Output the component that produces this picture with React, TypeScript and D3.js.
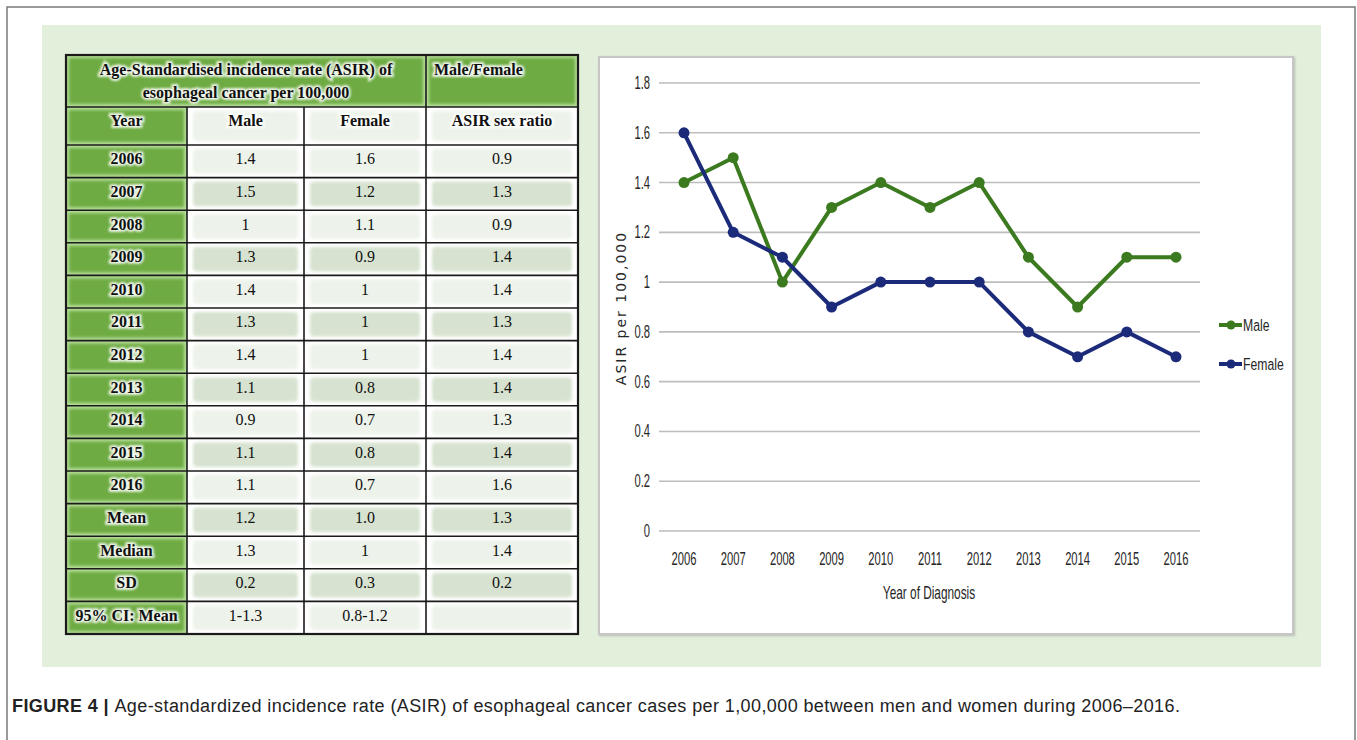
import React from 'react';
import { scaleLinear, scalePoint, scaleBand, line, range } from 'd3';

// table + chart values
const years = [2006, 2007, 2008, 2009, 2010, 2011, 2012, 2013, 2014, 2015, 2016];
const maleAsir = [1.4, 1.5, 1, 1.3, 1.4, 1.3, 1.4, 1.1, 0.9, 1.1, 1.1];
const femaleAsir = [1.6, 1.2, 1.1, 0.9, 1, 1, 1, 0.8, 0.7, 0.8, 0.7];
const sexRatio = ['0.9', '1.3', '0.9', '1.4', '1.4', '1.3', '1.4', '1.4', '1.3', '1.4', '1.6'];

const summaryLabels = ['Mean', 'Median', 'SD', '95% CI: Mean'];
const summaryMale = ['1.2', '1.3', '0.2', '1-1.3'];
const summaryFemale = ['1.0', '1', '0.3', '0.8-1.2'];
const summaryRatio = ['1.3', '1.4', '0.2', ''];

const headerTitle = ['Age-Standardised incidence rate (ASIR) of', 'esophageal cancer per 100,000'];
const columnHeads = ['Year', 'Male', 'Female', 'ASIR sex ratio'];
const yTicks = [0, 0.2, 0.4, 0.6, 0.8, 1, 1.2, 1.4, 1.6, 1.8];

const GREEN_LINE = '#3b7a1f';
const BLUE_LINE = '#1c2a7a';
const SERIF = '"Liberation Serif", "Times New Roman", serif';
const SANS = '"Liberation Sans", Arial, sans-serif';

// condensed label (no narrow font installed, so squeeze horizontally)
const Narrow: React.FC<{ x: number; y: number; size?: number; sx?: number; anchor?: 'start' | 'middle' | 'end'; children: React.ReactNode }> =
  ({ x, y, size = 17.5, sx = 0.64, anchor = 'middle', children }) => (
    <text transform={`translate(${x},${y}) scale(${sx},1)`} textAnchor={anchor}
      fontFamily={SANS} fontSize={size} fill="#262626">{children}</text>
  );

const App: React.FC = () => {
  // table geometry
  const colEdges = [66, 187, 304, 426, 578];
  const tableTop = 55;
  const head1Bottom = 107;
  const head2Bottom = 145;
  const tableBottom = 634;

  const rows = [
    ...years.map((y, i) => ({ label: String(y), vals: [String(maleAsir[i]), String(femaleAsir[i]), sexRatio[i]] })),
    ...summaryLabels.map((s, i) => ({ label: s, vals: [summaryMale[i], summaryFemale[i], summaryRatio[i]] })),
  ];
  const rowScale = scaleBand<number>().domain(range(rows.length)).range([head2Bottom, tableBottom]);
  const rh = rowScale.bandwidth();

  // chart scales
  const x = scalePoint<number>().domain(years).range([684, 1176]);
  const y = scaleLinear().domain([0, 1.8]).range([531, 83]);
  const seriesLine = line<number>().x((_, i) => x(years[i])!).y(d => y(d));

  const greenCell = (x0: number, y0: number, w: number, h: number, key: string) => (
    <g key={key}>
      <rect x={x0} y={y0} width={w} height={h} fill="#b5dd98" />
      <rect x={x0 + 3} y={y0 + 3} width={w - 6} height={h - 6} fill="#6eab43" filter="url(#soft)" />
    </g>
  );

  const glowText = (tx: number, ty: number, txt: string, anchor: 'middle' | 'start', key: string, size = 16) => (
    <g key={key} fontFamily={SERIF} fontWeight="bold" fontSize={size} textAnchor={anchor}>
      <text x={tx} y={ty} fill="none" stroke="#ffffff" strokeOpacity={0.85} strokeWidth={4} filter="url(#glow)">{txt}</text>
      <text x={tx} y={ty} fill="#111">{txt}</text>
    </g>
  );

  const dataCell = (ci: number, y0: number, h: number, dark: boolean, key: string) => {
    const x0 = colEdges[ci];
    const w = colEdges[ci + 1] - x0;
    return (
      <g key={key}>
        <rect x={x0} y={y0} width={w} height={h} fill="#ffffff" />
        <rect x={x0 + 6} y={y0 + 4} width={w - 12} height={h - 8} rx={4}
          fill={dark ? '#d7e3d0' : '#edf3ea'} filter="url(#soft)" />
      </g>
    );
  };

  return (
    <svg width={1357} height={740} style={{ position: 'absolute', left: 0, top: 0, background: '#fff' }}>
      <defs>
        <filter id="soft" x="-10%" y="-10%" width="120%" height="120%">
          <feGaussianBlur stdDeviation={1.5} />
        </filter>
        <filter id="glow" x="-10%" y="-30%" width="120%" height="160%">
          <feGaussianBlur stdDeviation={1.2} />
        </filter>
        <filter id="shadow" x="-5%" y="-5%" width="110%" height="110%">
          <feDropShadow dx={1} dy={1} stdDeviation={1} floodColor="#999" floodOpacity={0.6} />
        </filter>
      </defs>

      {/* outer frame */}
      <path d="M7,740 V7 H1355 V740" fill="none" stroke="#7a7a7a" strokeWidth={1.5} />
      {/* green panel */}
      <rect x={42} y={25} width={1279} height={642} fill="#e2efda" />

      {/* ===== table ===== */}
      <g>
        {greenCell(colEdges[0], tableTop, colEdges[3] - colEdges[0], head1Bottom - tableTop, 'h1a')}
        {greenCell(colEdges[3], tableTop, colEdges[4] - colEdges[3], head1Bottom - tableTop, 'h1b')}
        {greenCell(colEdges[0], head1Bottom, colEdges[1] - colEdges[0], head2Bottom - head1Bottom, 'h2a')}
        {[1, 2, 3].map(ci => dataCell(ci, head1Bottom, head2Bottom - head1Bottom, false, `h2-${ci}`))}
        {rows.map((r, ri) => (
          <g key={`row-${ri}`}>
            {greenCell(colEdges[0], rowScale(ri)!, colEdges[1] - colEdges[0], rh, `g-${ri}`)}
            {[1, 2, 3].map(ci => dataCell(ci, rowScale(ri)!, rh, ri % 2 === 1, `d-${ri}-${ci}`))}
          </g>
        ))}

        {/* grid lines */}
        {rows.map((_, ri) => (
          <line key={`hl-${ri}`} x1={colEdges[0]} x2={colEdges[4]} y1={rowScale(ri)!} y2={rowScale(ri)!} stroke="#1a1a1a" strokeWidth={1.6} />
        ))}
        <line x1={colEdges[0]} x2={colEdges[4]} y1={head1Bottom} y2={head1Bottom} stroke="#1a1a1a" strokeWidth={1.6} />
        {colEdges.slice(1, 4).map((cx, i) => (
          <line key={`vl-${i}`} x1={cx} x2={cx} y1={i === 2 ? tableTop : head1Bottom} y2={tableBottom} stroke="#1a1a1a" strokeWidth={1.6} />
        ))}
        <rect x={colEdges[0]} y={tableTop} width={colEdges[4] - colEdges[0]} height={tableBottom - tableTop}
          fill="none" stroke="#1a1a1a" strokeWidth={2.2} />

        {/* header text */}
        {glowText((colEdges[0] + colEdges[3]) / 2, 75, headerTitle[0], 'middle', 'ht0')}
        {glowText((colEdges[0] + colEdges[3]) / 2, 98, headerTitle[1], 'middle', 'ht1')}
        {glowText(colEdges[3] + 8, 75, 'Male/Female', 'start', 'ht2')}
        {columnHeads.map((h, ci) => glowText((colEdges[ci] + colEdges[ci + 1]) / 2, 126, h, 'middle', `ch-${ci}`))}

        {/* body text */}
        {rows.map((r, ri) => {
          const ty = rowScale(ri)! + rh / 2 + 3;
          return (
            <g key={`rt-${ri}`}>
              {glowText((colEdges[0] + colEdges[1]) / 2, ty, r.label, 'middle', `lab-${ri}`)}
              {r.vals.map((v, vi) => (
                <text key={`v-${vi}`} x={(colEdges[vi + 1] + colEdges[vi + 2]) / 2} y={ty}
                  textAnchor="middle" fontFamily={SERIF} fontSize={16} fill="#111">{v}</text>
              ))}
            </g>
          );
        })}
      </g>

      {/* ===== chart ===== */}
      <rect x={599} y={57} width={694} height={577} fill="#ffffff" stroke="#c6c6c6" strokeWidth={2} filter="url(#shadow)" />

      {yTicks.map(t => (
        <g key={`yt-${t}`}>
          <line x1={659} x2={1200} y1={y(t)} y2={y(t)} stroke="#bdbdbd" strokeWidth={1.6} />
          <Narrow x={650} y={y(t) + 6} anchor="end">{String(t)}</Narrow>
        </g>
      ))}
      {years.map(yr => (
        <Narrow key={`xt-${yr}`} x={x(yr)!} y={565}>{yr}</Narrow>
      ))}
      <Narrow x={929} y={599} size={18.5}>Year of Diagnosis</Narrow>
      <text transform={`translate(626,308) rotate(-90)`} textAnchor="middle" fontFamily='"DejaVu Sans", Verdana, sans-serif'
        fontSize={14} fill="#262626" letterSpacing={2}>ASIR per 100,000</text>

      <path d={seriesLine(maleAsir) ?? ''} fill="none" stroke={GREEN_LINE} strokeWidth={4} strokeLinejoin="round" />
      <path d={seriesLine(femaleAsir) ?? ''} fill="none" stroke={BLUE_LINE} strokeWidth={4} strokeLinejoin="round" />
      {maleAsir.map((v, i) => (
        <circle key={`mm-${i}`} cx={x(years[i])} cy={y(v)} r={5.5} fill={GREEN_LINE} />
      ))}
      {femaleAsir.map((v, i) => (
        <circle key={`fm-${i}`} cx={x(years[i])} cy={y(v)} r={5.5} fill={BLUE_LINE} />
      ))}

      {/* legend */}
      {[{ name: 'Male', c: GREEN_LINE, ly: 325 }, { name: 'Female', c: BLUE_LINE, ly: 364 }].map(l => (
        <g key={l.name}>
          <line x1={1219} x2={1242} y1={l.ly} y2={l.ly} stroke={l.c} strokeWidth={4} />
          <circle cx={1231} cy={l.ly} r={4.5} fill={l.c} />
          <Narrow x={1243} y={l.ly + 6} size={16.5} sx={0.74} anchor="start">{l.name}</Narrow>
        </g>
      ))}

      {/* caption */}
      <text x={12} y={712} fontFamily={SANS} fontSize={18} letterSpacing={0.4} fill="#222">
        <tspan fontWeight="bold">FIGURE 4 | </tspan>
        <tspan>Age-standardized incidence rate (ASIR) of esophageal cancer cases per 1,00,000 between men and women during 2006–2016.</tspan>
      </text>
    </svg>
  );
};

export default App;
